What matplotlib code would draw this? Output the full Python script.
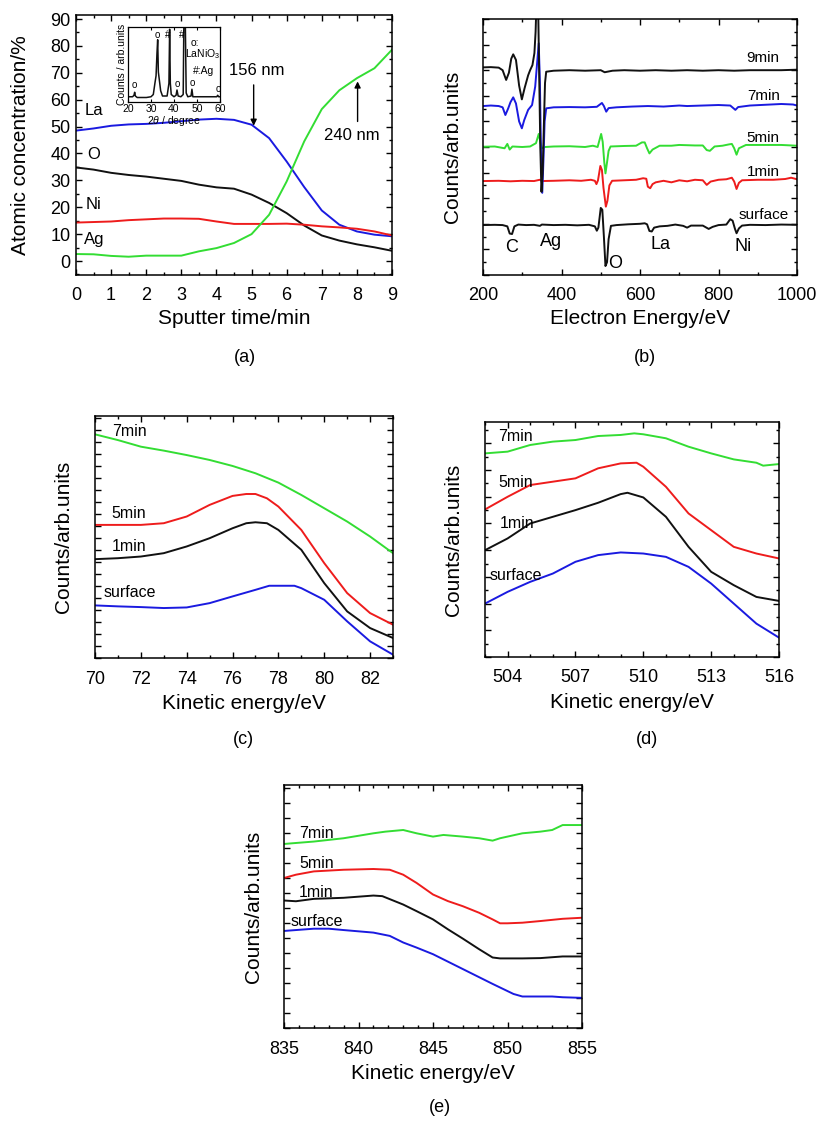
import matplotlib
matplotlib.use('Agg')
import matplotlib.pyplot as plt
from matplotlib.ticker import MultipleLocator, NullFormatter

plt.rcParams['font.family'] = ['Liberation Sans', 'DejaVu Sans']
plt.rcParams['mathtext.fontset'] = 'custom'
plt.rcParams['mathtext.rm'] = 'Liberation Sans'
plt.rcParams['mathtext.it'] = 'Liberation Sans:italic'

BLUE = '#1a1ae0'
RED = '#ee1c1c'
GREEN = '#33dd33'
BLACK = '#111111'

# ---------------- panel (a): depth profile ----------------
t_min = [0, 0.5, 1, 1.5, 2, 2.5, 3, 3.5, 4, 4.5, 5, 5.5, 6, 6.5, 7, 7.5, 8, 8.5, 9]
conc_La = [48.5, 49.3, 50.3, 50.8, 51.0, 51.4, 52.0, 52.6, 52.9, 52.5, 50.7, 45.7, 37.0, 27.5, 18.8, 13.5, 11.0, 9.8, 9.2]
conc_O = [34.8, 34.0, 32.8, 32.0, 31.4, 30.6, 29.8, 28.4, 27.4, 26.9, 24.7, 21.6, 17.8, 13.2, 9.5, 7.6, 6.2, 5.1, 3.8]
conc_Ni = [14.3, 14.5, 14.7, 15.2, 15.5, 15.8, 15.8, 15.7, 14.7, 13.8, 13.8, 13.8, 13.9, 13.5, 12.9, 12.5, 12.0, 11.0, 9.5]
conc_Ag = [2.6, 2.5, 1.9, 1.6, 2.0, 2.0, 2.0, 3.6, 4.8, 6.7, 10.0, 17.2, 29.6, 44.5, 56.5, 63.5, 68.0, 71.7, 78.6]

# inset XRD
xrd_2theta = [20, 22, 22.6, 22.9, 23.2, 24, 28, 30, 31, 31.7, 32.2, 32.6, 32.9, 33.2, 33.6, 34.2, 35, 37,
              37.8, 38.1, 38.4, 38.8, 40, 40.9, 41.3, 41.8, 43, 44.0, 44.3, 44.6, 44.9, 45.3, 46, 47.4,
              47.8, 48.2, 50, 55, 58.6, 59.0, 59.4, 60]
xrd_counts = [0.07, 0.07, 0.09, 0.13, 0.08, 0.06, 0.06, 0.07, 0.10, 0.25, 0.35, 0.65, 0.83, 0.40, 0.30, 0.15,
              0.08, 0.08, 0.25, 0.97, 0.25, 0.10, 0.07, 0.09, 0.16, 0.08, 0.07, 0.10, 1.1, 1.1, 1.1, 0.12,
              0.07, 0.08, 0.17, 0.07, 0.07, 0.07, 0.07, 0.09, 0.07, 0.07]

# ---------------- panel (b): survey spectra ----------------
b_surf_x = [200, 230, 250, 262, 268, 274, 280, 290, 310, 330, 345, 350, 380, 410, 440, 470, 485, 490, 494, 500,
            504, 508, 512, 516, 520, 526, 540, 570, 600, 612, 618, 624, 630, 636, 650, 670, 690, 710, 720, 730,
            760, 775, 785, 800, 820, 830, 836, 842, 846, 852, 860, 880, 920, 960, 1000]
b_surf_y = [1.95, 1.96, 1.95, 1.90, 1.62, 1.60, 1.90, 1.97, 1.95, 1.96, 1.92, 1.97, 1.95, 1.96, 1.94, 1.96, 1.90,
            1.73, 1.85, 2.62, 2.55, 1.5, 0.35, 0.5, 1.4, 1.92, 1.95, 1.98, 2.0, 2.02, 1.98, 1.72, 1.70, 1.85,
            1.90, 1.92, 1.97, 1.92, 1.85, 1.93, 1.93, 1.80, 1.88, 1.95, 1.97, 2.18, 2.12, 1.8, 1.63, 1.82,
            1.93, 1.96, 1.95, 1.97, 1.96]
b_1min_x = [200, 240, 270, 300, 330, 345, 350, 380, 420, 450, 475, 485, 489, 493, 499, 503, 507, 513, 517, 522,
            529, 560, 590, 608, 616, 620, 626, 632, 640, 660, 680, 700, 720, 740, 760, 770, 780, 800, 820, 834,
            840, 846, 852, 860, 900, 940, 970, 985, 1000]
b_1min_y = [3.67, 3.68, 3.66, 3.68, 3.67, 3.72, 3.67, 3.68, 3.70, 3.68, 3.72, 3.68, 3.55, 3.70, 4.26, 4.1, 3.4,
            2.67, 2.9, 3.5, 3.68, 3.70, 3.72, 3.78, 3.76, 3.45, 3.39, 3.55, 3.62, 3.68, 3.62, 3.70, 3.66, 3.72,
            3.70, 3.52, 3.65, 3.72, 3.74, 3.80, 3.65, 3.36, 3.60, 3.70, 3.72, 3.72, 3.75, 3.80, 3.74]
b_5min_x = [200, 230, 255, 262, 268, 275, 300, 320, 335, 342, 346, 350, 358, 380, 420, 460, 480, 492, 501, 505,
            509, 512, 516, 520, 525, 560, 590, 605, 612, 618, 624, 632, 650, 680, 700, 740, 760, 770, 778, 790,
            810, 826, 834, 840, 846, 852, 870, 920, 960, 1000]
b_5min_y = [5.01, 5.02, 4.95, 5.12, 4.90, 5.02, 5.0, 5.02, 5.15, 5.51, 5.2, 4.95, 5.0, 5.02, 5.03, 5.0, 5.05,
            5.0, 5.51, 5.2, 4.4, 3.97, 4.4, 4.85, 5.02, 5.04, 5.05, 5.18, 5.18, 4.95, 4.75, 4.90, 5.05, 5.05,
            5.08, 5.06, 5.06, 4.88, 4.85, 5.02, 5.05, 5.10, 5.12, 4.95, 4.70, 4.95, 5.08, 5.08, 5.08, 5.05]
b_7min_x = [200, 220, 240, 250, 257, 264, 270, 277, 284, 292, 299, 305, 315, 325, 333, 338, 342, 345, 348, 351,
            354, 357, 361, 380, 420, 460, 490, 503, 508, 514, 520, 540, 580, 620, 660, 700, 720, 760, 800, 830,
            843, 850, 880, 920, 960, 990, 1000]
b_7min_y = [6.60, 6.62, 6.60, 6.55, 6.25, 6.5, 6.75, 6.94, 6.7, 6.0, 5.73, 6.05, 6.45, 6.64, 7.36, 8.3, 9.05,
            7.5, 4.5, 3.21, 4.5, 6.0, 6.51, 6.55, 6.56, 6.55, 6.57, 6.72, 6.6, 6.38, 6.52, 6.55, 6.58, 6.60,
            6.58, 6.62, 6.60, 6.62, 6.64, 6.62, 6.45, 6.56, 6.62, 6.65, 6.68, 6.66, 6.62]
b_9min_x = [200, 220, 240, 250, 259, 266, 272, 277, 284, 292, 299, 306, 315, 320, 326, 331, 334, 337, 340, 343,
            346, 349, 352, 355, 358, 361, 380, 420, 460, 500, 510, 530, 560, 600, 640, 680, 720, 760, 800, 840,
            880, 920, 960, 1000]
b_9min_y = [8.11, 8.12, 8.10, 8.0, 7.62, 7.9, 8.45, 8.62, 8.4, 7.4, 6.86, 7.3, 7.8, 8.0, 8.2, 8.67, 9.5, 11.0,
            11.0, 8.0, 5.0, 3.25, 4.0, 5.8, 7.5, 7.94, 7.98, 8.0, 7.98, 8.0, 7.92, 7.98, 8.0, 7.98, 8.0, 7.98,
            8.0, 7.98, 8.0, 7.98, 8.0, 8.0, 8.0, 8.02]

# ---------------- panel (c): La region ----------------
c_7min_x = [70, 71, 72, 73, 74, 75, 76, 77, 78, 79, 80, 81, 82, 83]
c_7min_y = [18.67, 18.19, 17.64, 17.31, 16.94, 16.53, 16.03, 15.42, 14.64, 13.61, 12.5, 11.39, 10.14, 8.75]
c_5min_x = [70, 71, 72, 73, 74, 75, 76, 76.6, 77, 77.5, 78, 79, 80, 81, 82, 83]
c_5min_y = [11.11, 11.11, 11.11, 11.25, 11.81, 12.78, 13.53, 13.69, 13.69, 13.33, 12.64, 10.69, 7.92, 5.42, 3.75, 2.78]
c_1min_x = [70, 71, 72, 73, 74, 75, 76, 76.6, 77, 77.5, 78, 79, 80, 81, 82, 83]
c_1min_y = [8.25, 8.33, 8.47, 8.75, 9.31, 10.0, 10.83, 11.25, 11.33, 11.25, 10.69, 9.03, 6.25, 3.89, 2.5, 1.67]
c_surf_x = [70, 71, 72, 73, 74, 75, 76, 77, 77.6, 78, 78.7, 79, 80, 81, 82, 83]
c_surf_y = [4.39, 4.31, 4.25, 4.17, 4.22, 4.58, 5.14, 5.69, 6.03, 6.03, 6.03, 5.83, 4.86, 3.06, 1.39, 0.28]

# ---------------- panel (d): O region ----------------
d_7min_x = [503, 504, 505, 506, 507, 508, 509, 509.6, 510, 511, 512, 513, 514, 515, 515.3, 516]
d_7min_y = [15.25, 15.38, 15.88, 16.13, 16.25, 16.55, 16.63, 16.75, 16.68, 16.38, 15.75, 15.25, 14.8, 14.55, 14.33, 14.45]
d_5min_x = [503, 504, 505, 506, 507, 508, 509, 509.7, 510, 511, 512, 513, 514, 515, 516]
d_5min_y = [11.05, 12.0, 12.88, 13.13, 13.38, 14.13, 14.5, 14.55, 14.25, 12.75, 10.75, 9.5, 8.25, 7.75, 7.38]
d_1min_x = [503, 504, 505, 506, 507, 508, 509, 509.3, 510, 511, 512, 513, 514, 515, 516]
d_1min_y = [8.0, 8.88, 10.0, 10.5, 11.0, 11.55, 12.2, 12.3, 11.95, 10.5, 8.25, 6.38, 5.38, 4.5, 4.2]
d_surf_x = [503, 504, 505, 506, 507, 508, 509, 510, 511, 512, 513, 514, 515, 516]
d_surf_y = [4.0, 4.88, 5.63, 6.25, 7.13, 7.63, 7.83, 7.75, 7.5, 6.75, 5.5, 4.0, 2.5, 1.45]

# ---------------- panel (e): Ni region ----------------
e_7min_x = [835, 837, 839, 841, 841.8, 843, 843.9, 845, 845.7, 847, 848.1, 849, 849.5, 851, 852.2, 853, 853.7, 855]
e_7min_y = [12.27, 12.43, 12.65, 12.98, 13.09, 13.2, 12.98, 12.76, 12.87, 12.76, 12.65, 12.49, 12.65, 12.98,
            13.09, 13.2, 13.53, 13.53]
e_5min_x = [835, 835.8, 837, 839, 841, 842.1, 843, 843.9, 845, 846, 847, 848.1, 849, 849.5, 850, 851, 852.2,
            853.7, 855]
e_5min_y = [10.0, 10.22, 10.44, 10.55, 10.6, 10.55, 10.22, 9.67, 8.9, 8.46, 8.12, 7.68, 7.24, 6.98, 6.98, 7.02,
            7.13, 7.28, 7.35]
e_1min_x = [835, 835.8, 837, 839, 841, 841.6, 843, 843.9, 845, 846, 847, 848.1, 849, 849.5, 851, 852.2, 853.7, 855]
e_1min_y = [8.5, 8.45, 8.61, 8.68, 8.83, 8.79, 8.23, 7.79, 7.24, 6.58, 5.96, 5.25, 4.70, 4.64, 4.64, 4.66, 4.77, 4.77]
e_surf_x = [835, 837, 838, 839, 841, 842.1, 843, 843.9, 845, 847, 849, 850.4, 851, 853, 853.7, 855]
e_surf_y = [6.47, 6.62, 6.62, 6.53, 6.36, 6.14, 5.70, 5.36, 4.92, 3.93, 2.94, 2.27, 2.10, 2.10, 2.05, 2.01]

W, H = 819, 1124
fig = plt.figure(figsize=(W / 100, H / 100), dpi=100)


def px_axes(l, t, r, b):
    return fig.add_axes([l / W, 1 - b / H, (r - l) / W, (b - t) / H])


def style(ax, xmaj, xmin, ymaj, ymin, ylabels=True, xpad=9):
    ax.tick_params(which='both', direction='in', top=True, right=True, width=1.0)
    ax.tick_params(which='major', length=4.5)
    ax.tick_params(which='minor', length=2.5)
    ax.tick_params(axis='x', labelsize=13, pad=xpad)
    ax.tick_params(axis='y', labelsize=13, pad=4)
    ax.xaxis.set_major_locator(MultipleLocator(xmaj))
    ax.xaxis.set_minor_locator(MultipleLocator(xmin))
    ax.yaxis.set_major_locator(MultipleLocator(ymaj))
    ax.yaxis.set_minor_locator(MultipleLocator(ymin))
    if not ylabels:
        ax.yaxis.set_major_formatter(NullFormatter())
    for s in ax.spines.values():
        s.set_linewidth(1.1)


LW = 1.4

# ---------- (a) ----------
ax_a = px_axes(76, 15, 392, 275)
ax_a.plot(t_min, conc_La, color=BLUE, lw=LW)
ax_a.plot(t_min, conc_O, color=BLACK, lw=LW)
ax_a.plot(t_min, conc_Ni, color=RED, lw=LW)
ax_a.plot(t_min, conc_Ag, color=GREEN, lw=LW)
ax_a.set_xlim(0, 9)
ax_a.set_ylim(-5.2, 91.5)
style(ax_a, 1, 0.5, 10, 5, xpad=8.5)
ax_a.set_xlabel('Sputter time/min', fontsize=15, labelpad=4)
ax_a.set_ylabel('Atomic concentration/%', fontsize=15)
ax_a.yaxis.set_label_coords(-0.146, 0.5)
ax_a.text(0.25, 56, 'La', fontsize=12, ha='left', va='center')
ax_a.text(0.32, 39.5, 'O', fontsize=12, ha='left', va='center')
ax_a.text(0.28, 21, 'Ni', fontsize=12, ha='left', va='center')
ax_a.text(0.22, 8, 'Ag', fontsize=12, ha='left', va='center')
ax_a.text(5.15, 71, '156 nm', fontsize=12, ha='center', va='center')
ax_a.annotate('', xy=(5.06, 50.3), xytext=(5.06, 65.5),
              arrowprops=dict(arrowstyle='-|>', color='k', lw=1.0, mutation_scale=9, shrinkA=0, shrinkB=0))
ax_a.text(7.86, 46.8, '240 nm', fontsize=12, ha='center', va='center')
ax_a.annotate('', xy=(8.02, 66.8), xytext=(8.02, 51.9),
              arrowprops=dict(arrowstyle='-|>', color='k', lw=1.0, mutation_scale=9, shrinkA=0, shrinkB=0))

# inset
ax_i = px_axes(128, 27, 220, 102)
ax_i.plot(xrd_2theta, xrd_counts, color=BLACK, lw=1.1)
ax_i.set_xlim(20, 60)
ax_i.set_ylim(0, 1)
ax_i.tick_params(which='both', direction='in', top=True, right=False, left=False, labelleft=False,
                 labelsize=7.5, pad=1.5, length=2.5, width=0.8)
ax_i.xaxis.set_major_locator(MultipleLocator(10))
ax_i.set_xlabel(r'2$\it{\theta}$ / degree', fontsize=7.5, labelpad=0)
ax_i.set_ylabel('Counts / arb.units', fontsize=7.5, labelpad=1)
for s in ax_i.spines.values():
    s.set_linewidth(0.9)
for xx, yy, ss in [(22.9, 0.23, 'o'), (32.9, 0.9, 'o'), (37.4, 0.9, '#'), (43.2, 0.9, '#'),
                   (41.5, 0.24, 'o'), (48.1, 0.26, 'o'), (59.1, 0.17, 'o')]:
    ax_i.text(xx, yy, ss, fontsize=7, ha='center', va='center')
ax_i.text(48.9, 0.78, 'o:', fontsize=7.5, ha='center', va='center')
ax_i.text(52.6, 0.64, r'LaNiO$_3$', fontsize=7.5, ha='center', va='center')
ax_i.text(53.0, 0.41, '#:Ag', fontsize=7.5, ha='center', va='center')

# ---------- (b) ----------
ax_b = px_axes(483, 19, 797, 275)
ax_b.plot(b_surf_x, b_surf_y, color=BLACK, lw=LW)
ax_b.plot(b_1min_x, b_1min_y, color=RED, lw=LW)
ax_b.plot(b_5min_x, b_5min_y, color=GREEN, lw=LW)
ax_b.plot(b_7min_x, b_7min_y, color=BLUE, lw=LW)
ax_b.plot(b_9min_x, b_9min_y, color=BLACK, lw=LW)
ax_b.set_xlim(200, 1000)
ax_b.set_ylim(0, 10)
style(ax_b, 200, 100, 1, 0.5, ylabels=False, xpad=8.5)
ax_b.set_xlabel('Electron Energy/eV', fontsize=15, labelpad=4)
ax_b.set_ylabel('Counts/arb.units', fontsize=15)
ax_b.yaxis.set_label_coords(-0.067, 0.5)
for lab, yy in [('9min', 8.46), ('7min', 6.99), ('5min', 5.34), ('1min', 4.04), ('surface', 2.34)]:
    ax_b.text(914, yy, lab, fontsize=11, ha='center', va='center')
for lab, xx, yy in [('C', 274, 1.08), ('Ag', 373, 1.30), ('O', 537, 0.43), ('La', 652, 1.2), ('Ni', 864, 1.1)]:
    ax_b.text(xx, yy, lab, fontsize=13, ha='center', va='center')

# ---------- (c) ----------
ax_c = px_axes(95, 416, 393, 658)
ax_c.plot(c_7min_x, c_7min_y, color=GREEN, lw=LW)
ax_c.plot(c_5min_x, c_5min_y, color=RED, lw=LW)
ax_c.plot(c_1min_x, c_1min_y, color=BLACK, lw=LW)
ax_c.plot(c_surf_x, c_surf_y, color=BLUE, lw=LW)
ax_c.set_xlim(70, 83)
ax_c.set_ylim(0, 20.2)
style(ax_c, 2, 1, 1, 1, ylabels=False)
ax_c.set_xlabel('Kinetic energy/eV', fontsize=15, labelpad=5)
ax_c.set_ylabel('Counts/arb.units', fontsize=15)
ax_c.yaxis.set_label_coords(-0.074, 0.5)
for lab, xx, yy in [('7min', 70.73, 18.9), ('5min', 70.73, 12.08), ('1min', 70.73, 9.31), ('surface', 70.36, 5.47)]:
    ax_c.text(xx, yy, lab, fontsize=11.5, ha='left', va='center')

# ---------- (d) ----------
ax_d = px_axes(485, 422, 779, 657)
ax_d.plot(d_7min_x, d_7min_y, color=GREEN, lw=LW)
ax_d.plot(d_5min_x, d_5min_y, color=RED, lw=LW)
ax_d.plot(d_1min_x, d_1min_y, color=BLACK, lw=LW)
ax_d.plot(d_surf_x, d_surf_y, color=BLUE, lw=LW)
ax_d.set_xlim(503, 516)
ax_d.set_ylim(0, 17.6)
style(ax_d, 3, 1, 2, 1, ylabels=False)
ax_d.set_xlabel('Kinetic energy/eV', fontsize=15, labelpad=5)
ax_d.set_ylabel('Counts/arb.units', fontsize=15)
ax_d.yaxis.set_label_coords(-0.075, 0.5)
for lab, xx, yy in [('7min', 503.59, 16.5), ('5min', 503.59, 13.1), ('1min', 503.66, 10.0), ('surface', 503.22, 6.1)]:
    ax_d.text(xx, yy, lab, fontsize=11.5, ha='left', va='center')

# ---------- (e) ----------
ax_e = px_axes(284, 785, 582, 1028)
ax_e.plot(e_7min_x, e_7min_y, color=GREEN, lw=LW)
ax_e.plot(e_5min_x, e_5min_y, color=RED, lw=LW)
ax_e.plot(e_1min_x, e_1min_y, color=BLACK, lw=LW)
ax_e.plot(e_surf_x, e_surf_y, color=BLUE, lw=LW)
ax_e.set_xlim(835, 855)
ax_e.set_ylim(0, 16.2)
style(ax_e, 5, 1, 1, 1, ylabels=False)
ax_e.set_xlabel('Kinetic energy/eV', fontsize=15, labelpad=5)
ax_e.set_ylabel('Counts/arb.units', fontsize=15)
ax_e.yaxis.set_label_coords(-0.07, 0.5)
for lab, xx, yy in [('7min', 836.0, 12.98), ('5min', 836.0, 10.99), ('1min', 836.0, 9.05), ('surface', 835.45, 7.13)]:
    ax_e.text(xx, yy, lab, fontsize=11.5, ha='left', va='center')

# panel letters
for lab, xx, yy in [('(a)', 245, 357), ('(b)', 645, 358), ('(c)', 243, 740), ('(d)', 647, 740), ('(e)', 440, 1108)]:
    fig.text(xx / W, 1 - yy / H, lab, fontsize=13, ha='center', va='center')

fig.savefig('out.png', dpi=100)
